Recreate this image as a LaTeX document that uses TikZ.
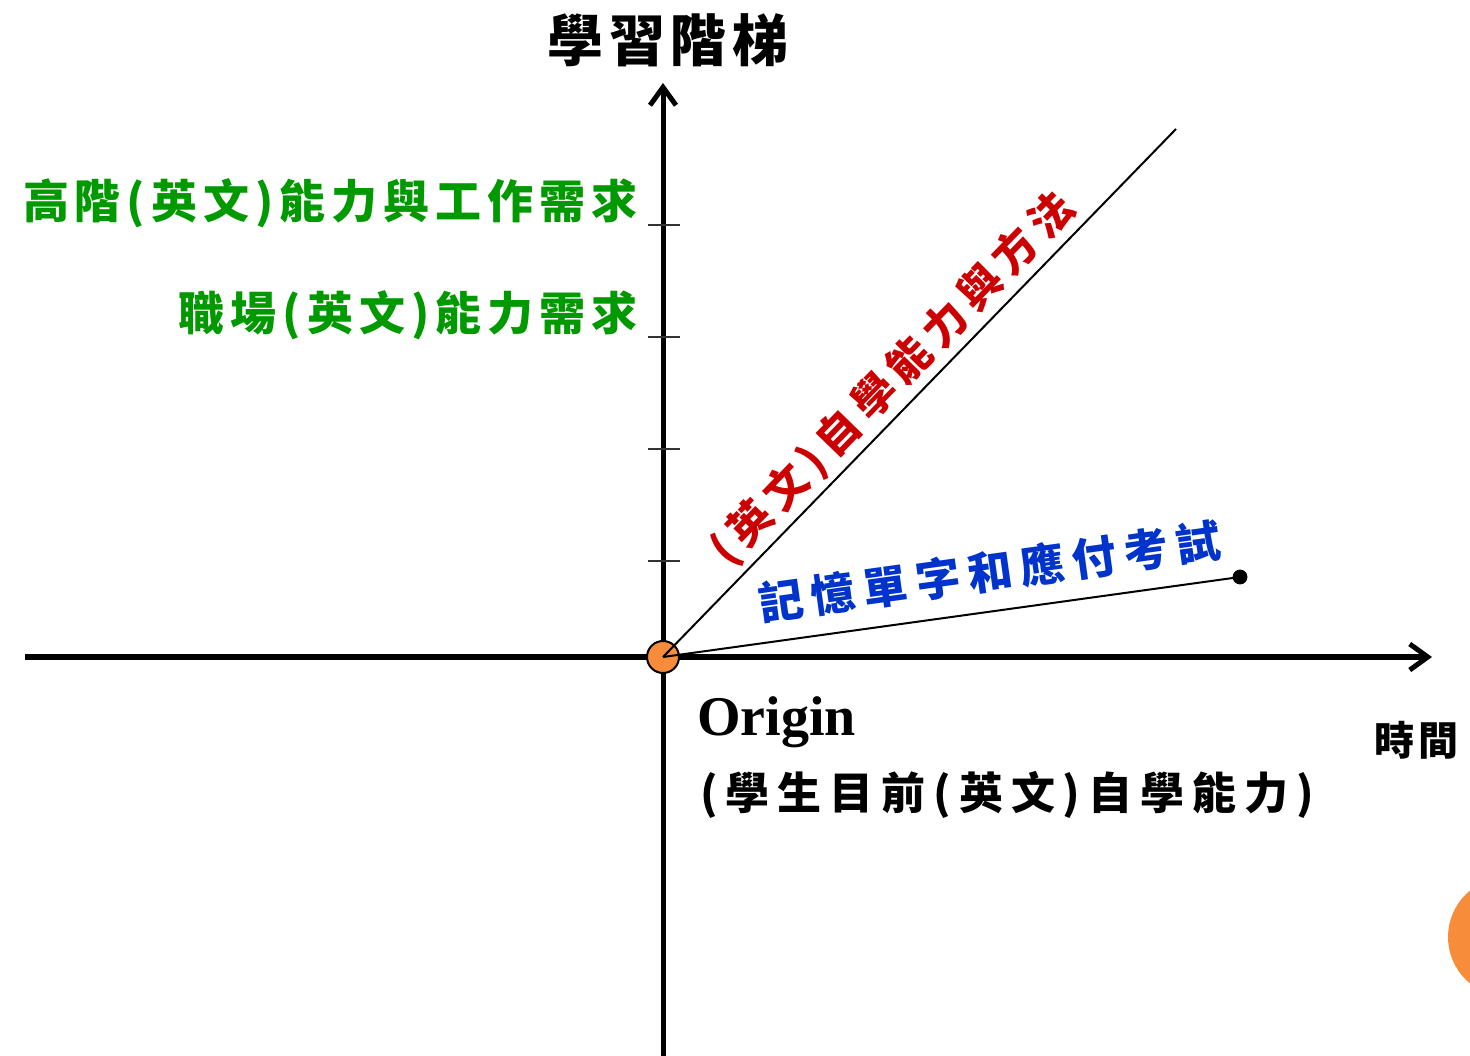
\documentclass[tikz,border=0pt]{standalone}
\usepackage{fontspec}
\usetikzlibrary{arrows.meta}
\newfontfamily\cjk[LetterSpace=18]{Noto Sans CJK TC}
\newfontfamily\cjkneed[LetterSpace=13]{Noto Sans CJK TC}
\newfontfamily\cjktight[LetterSpace=10]{Noto Sans CJK TC}
\newfontfamily\latin{Liberation Serif}
\definecolor{dotorange}{RGB}{247,140,58}
\definecolor{needgreen}{RGB}{0,153,0}
\definecolor{selfred}{RGB}{204,0,0}
\definecolor{examblue}{RGB}{0,51,204}
\begin{document}
\begin{tikzpicture}[x=5pt,y=5pt,
  axis/.style={line width=2.5pt,-{Straight Barb[length=9pt,width=13pt,line width=2.5pt]}},
  tickmark/.style={line width=1pt,black!80},
  path/.style={line width=1pt},
  need/.style={text=needgreen,font=\cjkneed\bfseries\fontsize{23}{27}\selectfont,anchor=east,inner sep=0pt},
  every node/.style={inner sep=0pt}]
\clip (0,0) rectangle (147,105.5);
\useasboundingbox (0,0) rectangle (147,105.5);

%%% AXES %%%
\coordinate (xstart) at (2.5,39.8);
\coordinate (xend) at (143.2,39.8);
\coordinate (ystart) at (66.3,-2);
\coordinate (yend) at (66.3,97.2);
\draw [axis] (xstart) -- (xend);
\draw [axis] (ystart) -- (yend);

\foreach \y/\n in {83.0/t4,71.8/t3,60.6/t2,49.4/t1} {
  \coordinate (\n a) at (64.8,\y);
  \coordinate (\n b) at (68.0,\y);
  \draw [tickmark] (\n a) -- (\n b);
}

%%% ORIGIN %%%
\node [draw,circle,line width=1pt,fill=dotorange,minimum size=16pt] at (66.3,39.8) (O) {};
\coordinate (selfend) at (117.6,92.6);
\node [draw,circle,fill=black,minimum size=7pt] at (124.0,47.8) (examdot) {};
\draw [path] (O.center) -- (selfend);
\draw [path] (O.center) -- (examdot.center);

%%% LABELS %%%
\node at (66.8,101.5) (ladder) {\cjktight\bfseries\fontsize{28}{32}\selectfont 學習階梯};
\node [need] at (63.8,85.2) (highneed) {高階(英文)能力與工作需求};
\node [need] at (63.8,74.0) (jobneed) {職場(英文)能力需求};
\node [rotate=45.8,text=selfred,font=\cjk\bfseries\fontsize{21.5}{25}\selectfont] at (89.3,67.6) (selflabel) {(英文)自學能力與方法};
\node [rotate=7.9,text=examblue,font=\cjk\bfseries\fontsize{22.3}{26}\selectfont] at (99.0,48.35) (examlabel) {記憶單字和應付考試};
\node [anchor=west,font=\latin\bfseries\fontsize{28}{32}\selectfont] at (69.7,33.3) (origin) {Origin};
\node [anchor=west,font=\cjk\bfseries\fontsize{22}{26}\selectfont] at (70.0,26.0) (nowlabel) {(學生目前(英文)自學能力)};
\node [font=\cjktight\bfseries\fontsize{20}{24}\selectfont] at (141.6,31.5) (time) {時間};

%%% CORNER %%%
\fill [dotorange] (150.8,11.8) circle (6.0);
\end{tikzpicture}
\end{document}
